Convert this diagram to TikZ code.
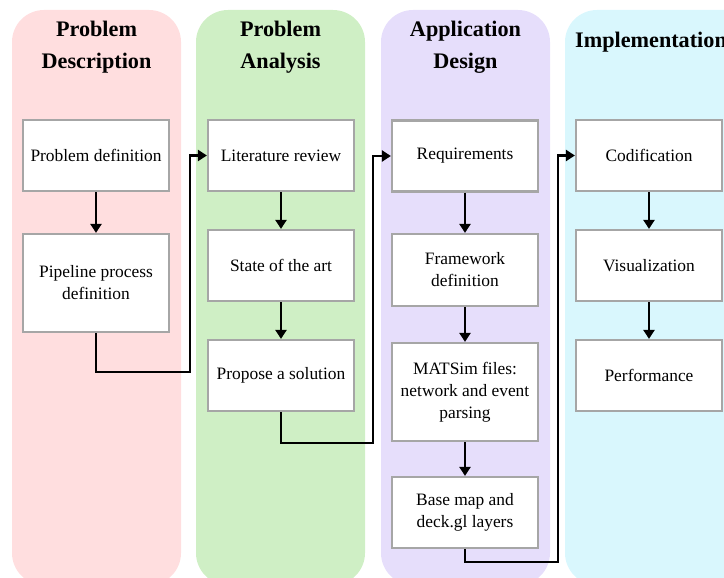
\documentclass[tikz,border=0pt]{standalone}
\usepackage{fontspec}
\setmainfont{Liberation Serif}
\usetikzlibrary{arrows.meta}
\definecolor{lanered}{RGB}{255,222,223}
\definecolor{lanegreen}{RGB}{207,239,197}
\definecolor{lanepurple}{RGB}{230,222,251}
\definecolor{lanecyan}{RGB}{217,247,253}
\definecolor{boxgray}{RGB}{166,166,166}
\begin{document}
\begin{tikzpicture}[x=1pt,y=-1pt,
  lane/.style={fill=#1, rounded corners=32pt},
  stepbox/.style={draw=boxgray, line width=2.2pt, fill=white, minimum width=146pt,
    inner sep=0pt, align=center, font=\fontsize{17.4}{22}\selectfont},
  title/.style={align=center, inner sep=0pt, font=\fontsize{22.2}{32}\selectfont\bfseries},
  flow/.style={line width=2.4pt, -{Triangle[length=9pt,width=11pt]}}
]
\useasboundingbox (0,0) rectangle (724,578);
\clip (0,0) rectangle (724,578);

% swim lanes
\fill[lane=lanered]    (12,10)  rectangle (181,585);
\fill[lane=lanegreen]  (196,10) rectangle (365,585);
\fill[lane=lanepurple] (381,10) rectangle (550,585);
\fill[lane=lanecyan]   (565,10) rectangle (765,585);

% lane titles
\node[title] (t1) at (96.5,47)  {Problem\\Description};
\node[title] (t2) at (280.5,47) {Problem\\Analysis};
\node[title] (t3) at (465.5,47) {Application\\Design};
\node[title] (t4) at (651,42)   {Implementation};

% steps
\node[stepbox, minimum height=71pt] (b11) at (96,155.5) {Problem definition};
\node[stepbox, minimum height=98pt] (b12) at (96,283) {Pipeline process\\definition};

\node[stepbox, minimum height=71pt] (b21) at (281,155.5) {Literature review};
\node[stepbox, minimum height=71pt] (b22) at (281,265.5) {State of the art};
\node[stepbox, minimum height=71pt] (b23) at (281,375.5) {Propose a solution};

\node[stepbox, minimum height=71pt] (b31) at (465,156) {Requirements};
\node[stepbox, minimum height=72pt] (b32) at (465,270) {Framework\\definition};
\node[stepbox, minimum height=98pt] (b33) at (465,392) {MATSim files:\\network and event\\parsing};
\node[stepbox, minimum height=71pt] (b34) at (465,512.5) {Base map and\\deck.gl layers};

\node[stepbox, minimum height=71pt] (b41) at (649,155.5) {Codification};
\node[stepbox, minimum height=71pt] (b42) at (649,265.5) {Visualization};
\node[stepbox, minimum height=71pt] (b43) at (649,375.5) {Performance};

% bends of the links between lanes
\coordinate (c1) at (190,372);
\coordinate (c2) at (373,443);
\coordinate (c3) at (558,562);

% flow inside each lane
\draw[flow] (b11) -- (b12);
\draw[flow] (b21) -- (b22);
\draw[flow] (b22) -- (b23);
\draw[flow] (b31) -- (b32);
\draw[flow] (b32) -- (b33);
\draw[flow] (b33) -- (b34);
\draw[flow] (b41) -- (b42);
\draw[flow] (b42) -- (b43);

% flow from lane to lane
\draw[flow] (b12.south) |- (c1) |- (b21.west);
\draw[flow] (b23.south) |- (c2) |- (b31.west);
\draw[flow] (b34.south) |- (c3) |- (b41.west);
\end{tikzpicture}
\end{document}
